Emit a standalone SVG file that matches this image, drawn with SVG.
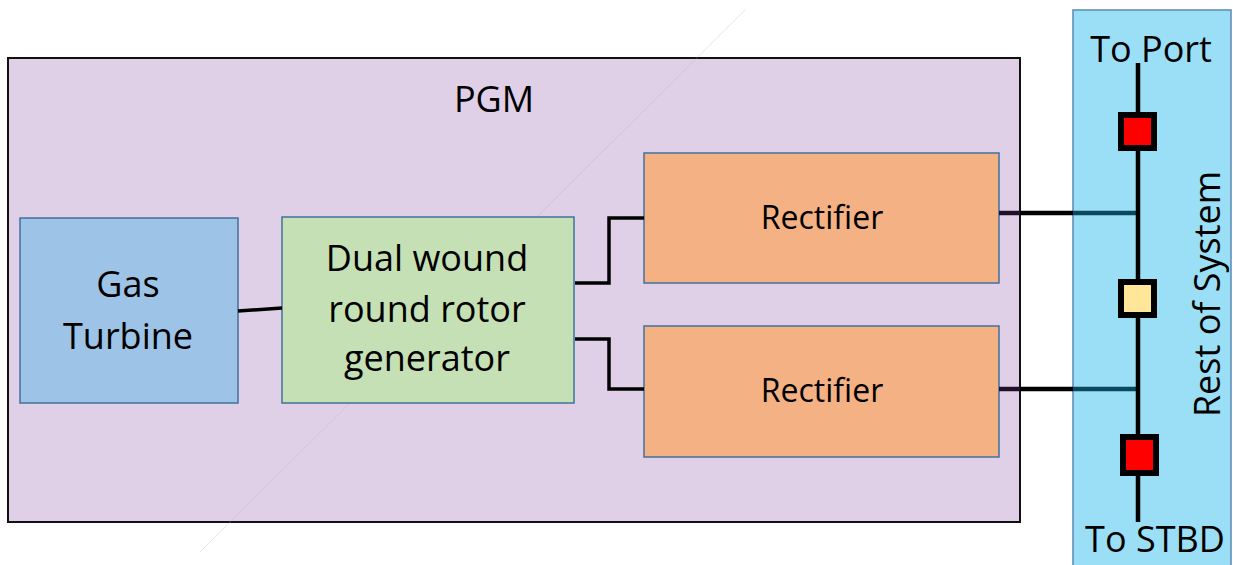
<svg xmlns="http://www.w3.org/2000/svg" width="1233" height="565" viewBox="0 0 1233 565">
<style>
.box{stroke:#41719C;stroke-width:1.5}
.t{font-family:"Open Sans","Liberation Sans",sans-serif;fill:#000;text-anchor:middle}
.wire{fill:none;stroke:#000;stroke-width:3.5}
.bus{fill:none;stroke:#000;stroke-width:4.5}
.brk{stroke:#000;stroke-width:6}
</style>
<rect x="0" y="0" width="1233" height="565" fill="#fff"/>
<g id="pgm">
<rect x="8" y="58" width="1012" height="464" fill="#DFD0E8" stroke="#111" stroke-width="2"/>
<text class="t" x="494" y="112" font-size="36">PGM</text>
</g>
<line x1="745" y1="10" x2="200" y2="552" stroke="#b8a6c6" stroke-width="1" opacity="0.3"/>
<g id="gas-turbine">
<rect class="box" x="20" y="218" width="218" height="185" fill="#9DC3E6"/>
<text class="t" x="128" y="297" font-size="36">Gas</text>
<text class="t" x="128" y="349" font-size="36">Turbine</text>
</g>
<g id="generator">
<rect class="box" x="282" y="217" width="292" height="186" fill="#C5E0B4"/>
<text class="t" x="427" y="271" font-size="36">Dual wound</text>
<text class="t" x="427" y="322" font-size="36">round rotor</text>
<text class="t" x="427" y="371" font-size="36">generator</text>
</g>
<g id="rectifier1">
<rect class="box" x="644" y="153" width="355" height="130" fill="#F4B183"/>
<text class="t" x="822" y="229" font-size="32">Rectifier</text>
</g>
<g id="rectifier2">
<rect class="box" x="644" y="326" width="355" height="131" fill="#F4B183"/>
<text class="t" x="822" y="402" font-size="32">Rectifier</text>
</g>
<g id="rest-of-system">
<rect x="1073" y="10" width="158" height="560" fill="#9ADFF6" stroke="#5B89B5" stroke-width="1.5"/>
<text class="t" x="1151" y="62" font-size="36">To Port</text>
<text class="t" x="1155" y="552" font-size="36">To STBD</text>
<text class="t" font-size="36" transform="translate(1220,294) rotate(-90)">Rest of System</text>
</g>
<g id="connectors">
<line class="wire" x1="238" y1="311" x2="282" y2="308"/>
<polyline class="wire" points="575,283 609,283 609,218 644,218"/>
<polyline class="wire" points="575,339 609,339 609,389 644,389"/>
<line x1="999" y1="213" x2="1020" y2="213" stroke="#22102A" stroke-width="4.5"/>
<line x1="1020" y1="213" x2="1073" y2="213" stroke="#000" stroke-width="4.5"/>
<line x1="1073" y1="213" x2="1137" y2="213" stroke="#0B4A5E" stroke-width="4.5"/>
<line x1="999" y1="389" x2="1020" y2="389" stroke="#22102A" stroke-width="4.5"/>
<line x1="1020" y1="389" x2="1073" y2="389" stroke="#000" stroke-width="4.5"/>
<line x1="1073" y1="389" x2="1137" y2="389" stroke="#0B4A5E" stroke-width="4.5"/>
<line class="bus" x1="1138" y1="63" x2="1138" y2="522"/>
</g>
<g id="breaker-port"><rect class="brk" x="1121" y="115" width="33" height="33" fill="#FF0000"/></g>
<g id="breaker-mid"><rect class="brk" x="1121" y="282" width="33" height="33" fill="#FFE699"/></g>
<g id="breaker-stbd"><rect class="brk" x="1123" y="437" width="33" height="36" fill="#FF0000"/></g>
</svg>
